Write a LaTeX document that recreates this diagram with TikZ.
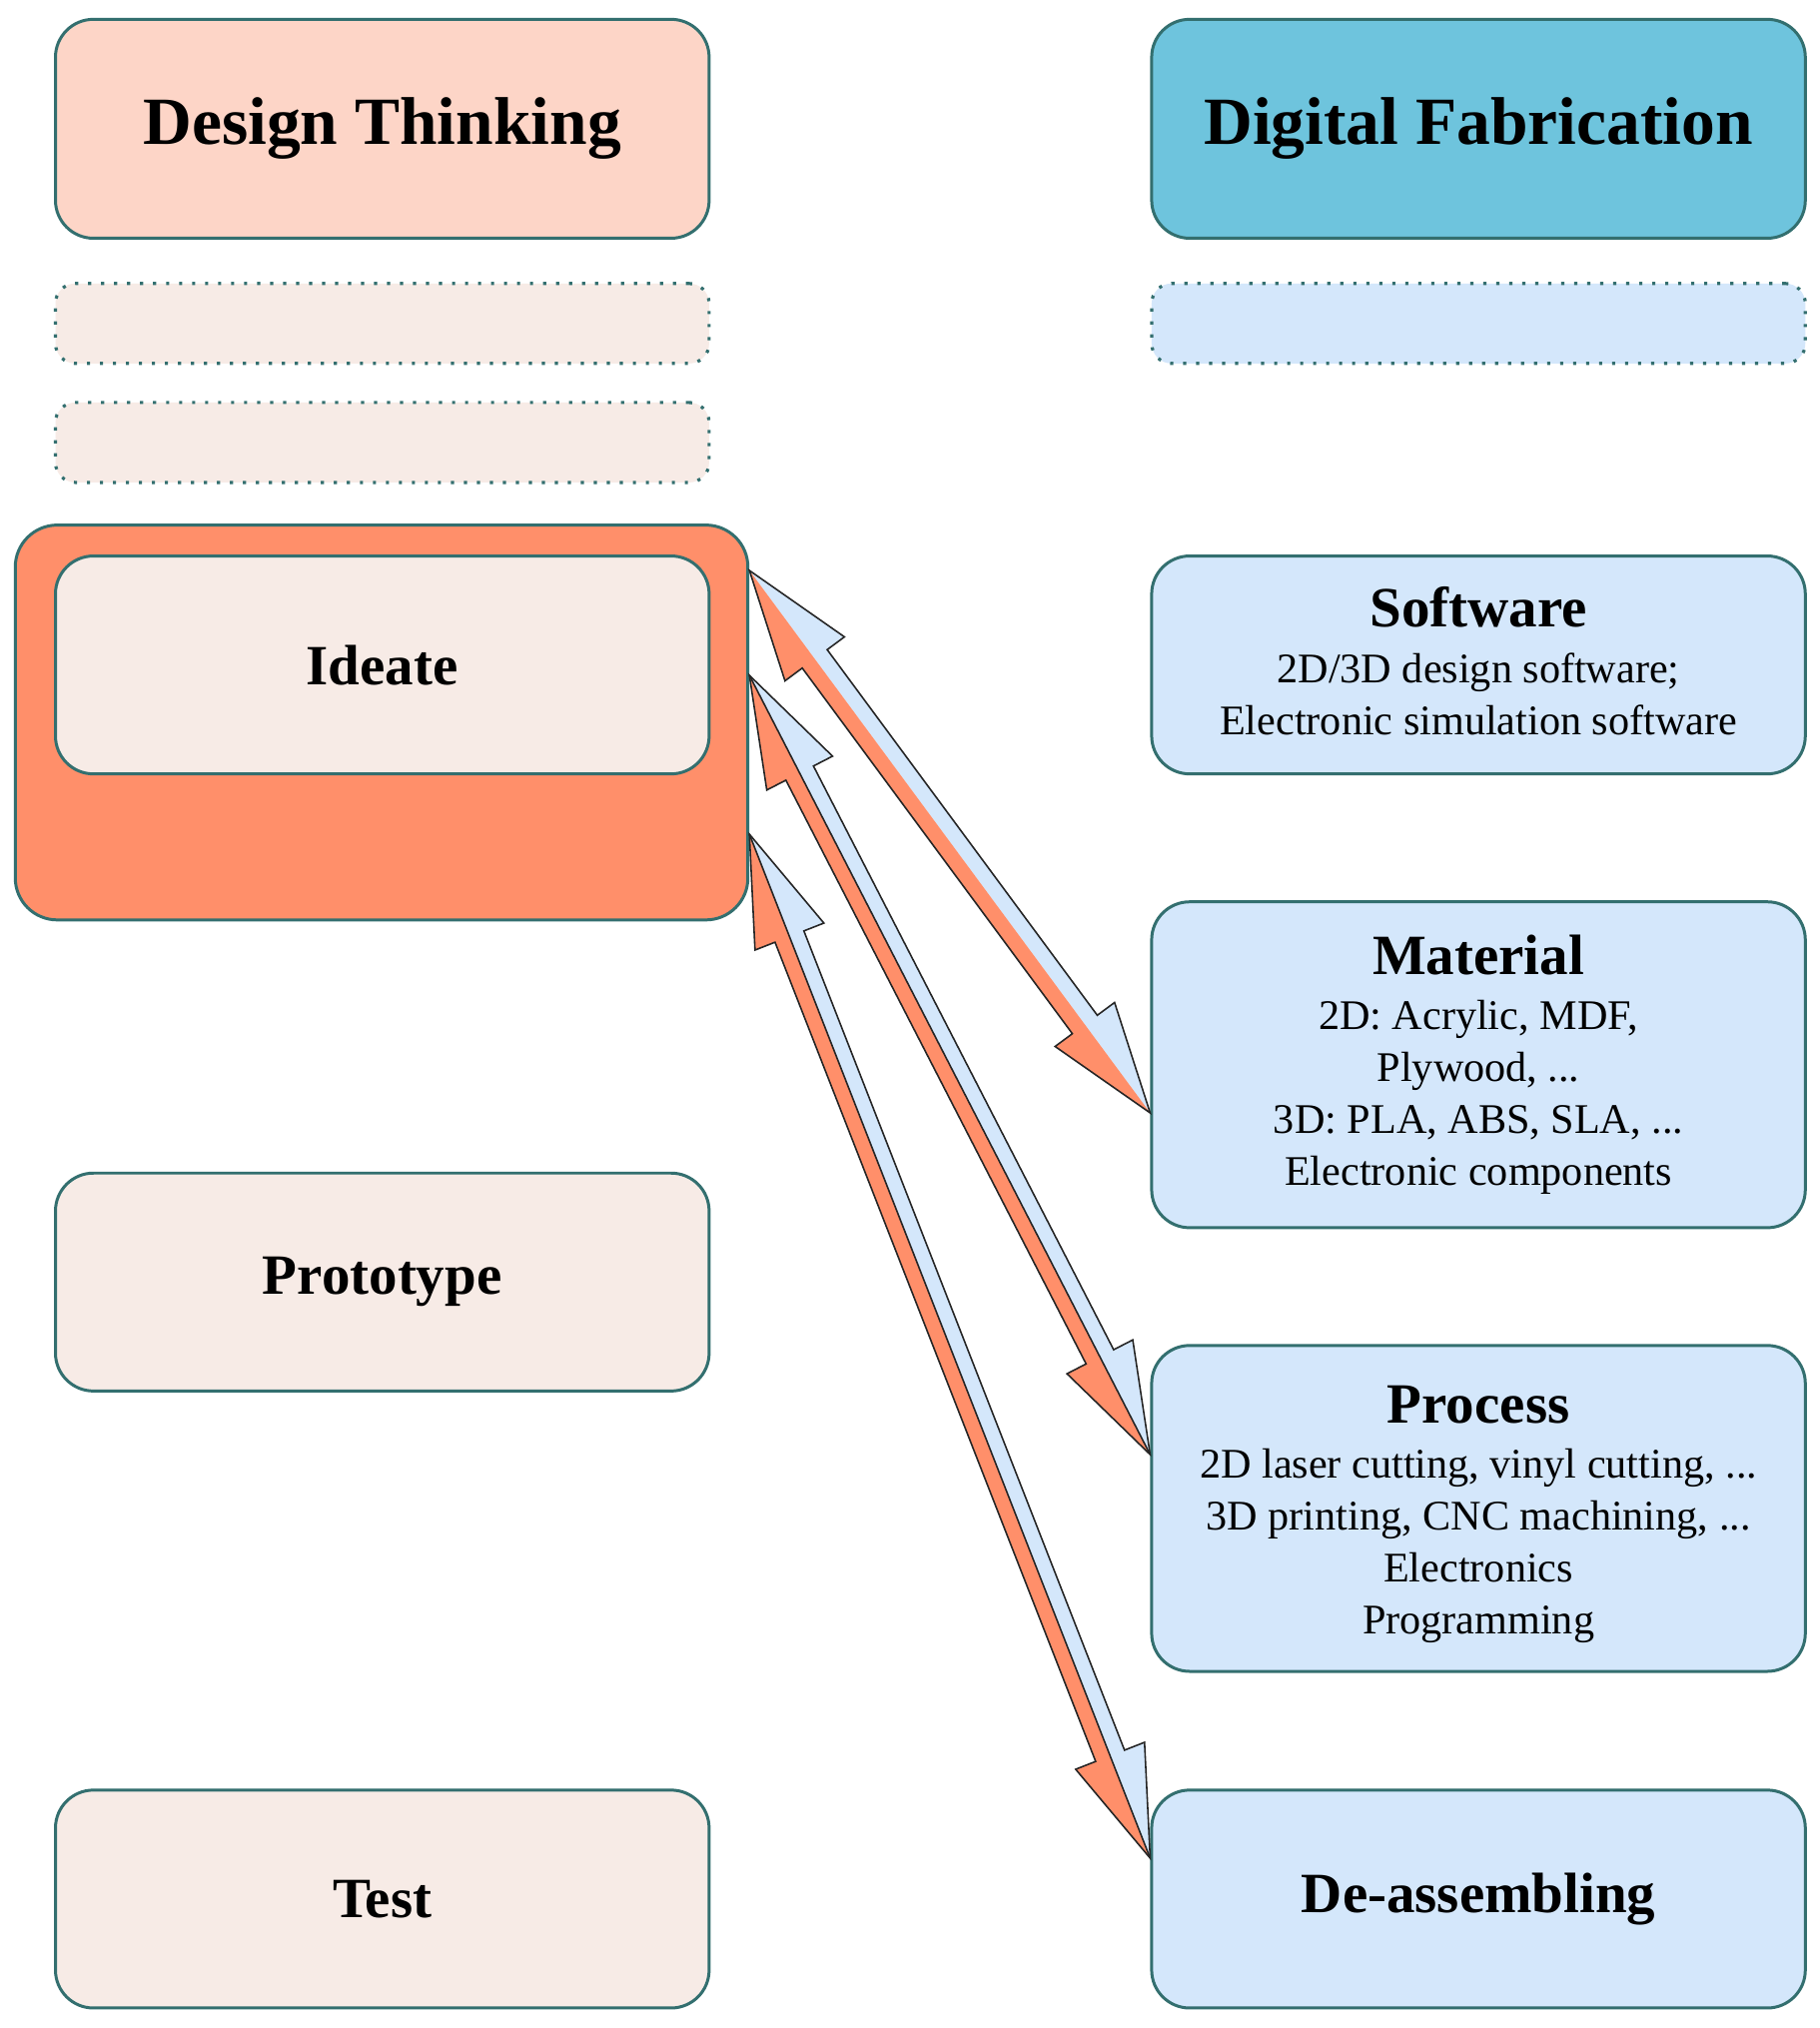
\documentclass[tikz,border=0pt]{standalone}
\usepackage{fontspec}
\setmainfont{Liberation Serif}
\usetikzlibrary{calc}
\definecolor{bordcol}{HTML}{336F6F}
\definecolor{dtfill}{HTML}{FDD5C7}
\definecolor{lpink}{HTML}{F7EBE6}
\definecolor{orangefill}{HTML}{FF8F6A}
\definecolor{dffill}{HTML}{6EC4DD}
\definecolor{lblue}{HTML}{D4E7FB}
\newcommand\ttlfont{\fontsize{19.2}{22}\selectfont\bfseries}
\newcommand\hdfont{\fontsize{16.2}{18}\selectfont\bfseries}
\newcommand\bdfont{\fontsize{12}{14.8}\selectfont}
\newcommand\splitarrow[2]{%
  \coordinate (Ht) at ($(#1)!1.1cm!(#2)$);
  \coordinate (Hb) at ($(#2)!1.1cm!(#1)$);
  \coordinate (tbp) at ($(Ht)!0.37cm!90:(#2)$);
  \coordinate (tnp) at ($(Ht)!0.155cm!90:(#2)$);
  \coordinate (tbm) at ($(Ht)!0.37cm!-90:(#2)$);
  \coordinate (tnm) at ($(Ht)!0.155cm!-90:(#2)$);
  \coordinate (bbp) at ($(Hb)!0.37cm!-90:(#1)$);
  \coordinate (bnp) at ($(Hb)!0.155cm!-90:(#1)$);
  \coordinate (bbm) at ($(Hb)!0.37cm!90:(#1)$);
  \coordinate (bnm) at ($(Hb)!0.155cm!90:(#1)$);
  \fill[lblue] (#1) -- (tbp) -- (tnp) -- (bnp) -- (bbp) -- (#2) -- cycle;
  \fill[orangefill] (#1) -- (tbm) -- (tnm) -- (bnm) -- (bbm) -- (#2) -- cycle;
  \draw[arrline] (#1) -- (tbp) -- (tnp) -- (bnp) -- (bbp) -- (#2) -- (bbm) -- (bnm) -- (tnm) -- (tbm) -- cycle;
}
\begin{document}
\begin{tikzpicture}[x=0.01cm,y=-0.01cm,
  box/.style={draw=bordcol, line width=0.85pt, rounded corners=0.38cm,
    minimum width=6.54cm, minimum height=2.18cm, align=center, inner sep=0pt,
    font=\bdfont},
  dotbox/.style={draw=bordcol, line width=0.9pt, dash pattern=on 0.9pt off 2.8pt,
    rounded corners=0.2cm, minimum width=6.54cm, minimum height=0.80cm, inner sep=0pt},
  tallbox/.style={box, minimum height=3.26cm},
  arrline/.style={draw=black!85, line width=0.45pt}
]
\fill[white] (0,0) rectangle (1822,2030);
\useasboundingbox (0,0) rectangle (1822,2030);

% left column
\node[box, fill=dtfill, minimum height=2.19cm] (dt) at (382.7,128.9) {\ttlfont Design Thinking};
\node[dotbox, fill=lpink] (dotl1) at (382.7,323.8) {};
\node[dotbox, fill=lpink] (dotl2) at (382.7,442.9) {};
\node[box, fill=orangefill, rounded corners=0.42cm, minimum width=7.33cm, minimum height=3.95cm] (ideate) at (382,723.2) {};
\node[box, fill=lpink] (ideatein) at (382.7,665.6) {\hdfont Ideate};
\node[box, fill=lpink] (proto) at (382.7,1283.3) {\hdfont Prototype};
\node[box, fill=lpink] (test) at (382.7,1900.9) {\hdfont Test};

% right column
\node[box, fill=dffill, minimum height=2.19cm] (df) at (1480.1,128.9) {\ttlfont Digital Fabrication};
\node[dotbox, fill=lblue] (dotr1) at (1480.1,323.8) {};
\node[box, fill=lblue] (soft) at (1480.1,665.6) {{\hdfont Software}\\[1pt]2D/3D design software;\\Electronic simulation software\rule[-2.3pt]{0pt}{0pt}};
\node[tallbox, fill=lblue] (mat) at (1480.1,1065.8) {{\hdfont Material}\\[1pt]2D: Acrylic, MDF,\\Plywood, ...\\3D: PLA, ABS, SLA, ...\\Electronic components};
\node[tallbox, fill=lblue] (proc) at (1480.1,1509.9) {{\hdfont Process}\rule{0pt}{14pt}\\[1pt]2D laser cutting, vinyl cutting, ...\\3D printing, CNC machining, ...\\Electronics\\Programming};
\node[box, fill=lblue] (deas) at (1480.1,1900.9) {\hdfont De-assembling};

% arrow end points
\coordinate (t1) at (ideate.east |- 0,571);
\coordinate (t2) at (ideate.east |- 0,676);
\coordinate (t3) at (ideate.east |- 0,835);
\coordinate (b1) at (mat.west |- 0,1114);
\coordinate (b2) at (proc.west |- 0,1456);
\coordinate (b3) at (deas.west |- 0,1860);

\splitarrow{t1}{b1}
\splitarrow{t2}{b2}
\draw[arrline] (t2) -- (b2);
\splitarrow{t3}{b3}
\draw[arrline] (t3) -- (b3);
\end{tikzpicture}
\end{document}
